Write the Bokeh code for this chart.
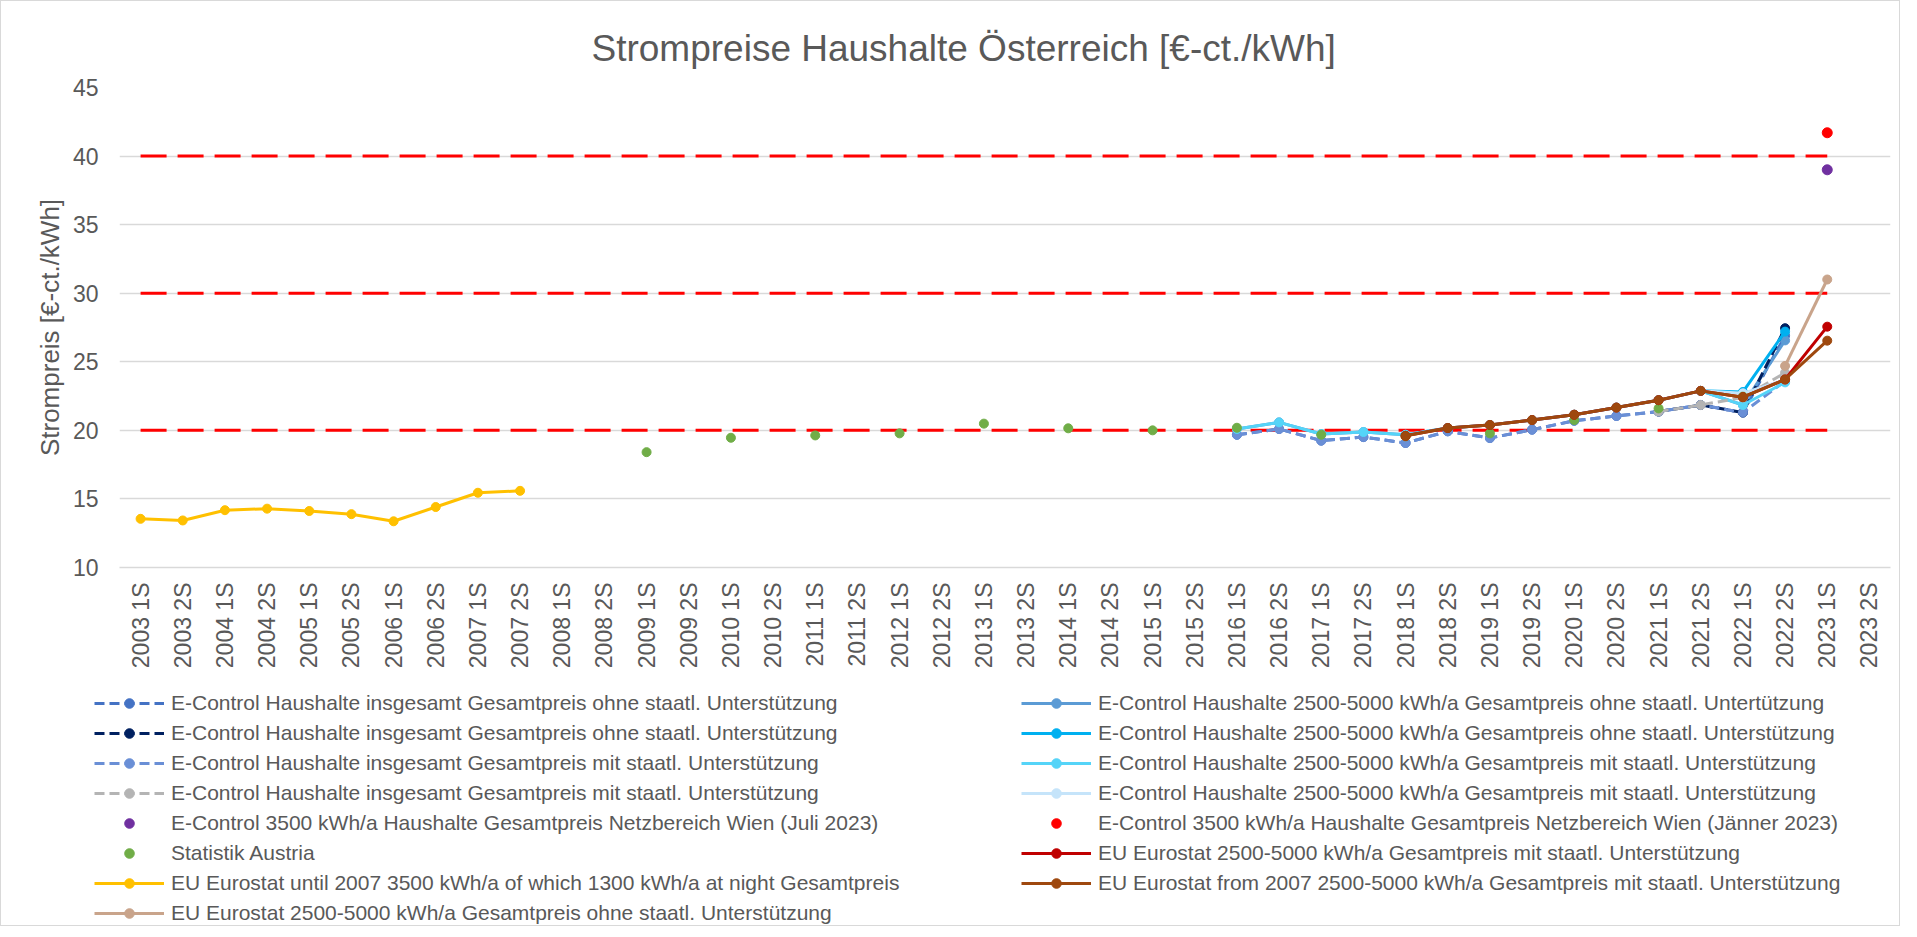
from math import pi
from bokeh.plotting import figure
from bokeh.models import (Legend, LegendItem, FixedTicker, Range1d, FactorRange,
                          ColumnDataSource)
from bokeh.embed import file_html
from bokeh.resources import INLINE

# ---------------- data ----------------
years = list(range(2003, 2024))
categories = [f"{y} {h}S" for y in years for h in (1, 2)]

y_ticks = [10, 15, 20, 25, 30, 35, 40, 45]
threshold_levels = [20, 30, 40]
threshold_cats = ["2003 1S", "2023 1S"]

ec_cats = ["2016 1S", "2016 2S", "2017 1S", "2017 2S", "2018 1S", "2018 2S", "2019 1S",
           "2019 2S", "2020 1S", "2020 2S", "2021 1S", "2021 2S", "2022 1S", "2022 2S"]

# E-Control Haushalte insgesamt Gesamtpreis ohne staatl. Unterstützung
ec_ges_ohne_a = [19.68, 20.10, 19.25, 19.51, 19.08, 19.93, 19.44, 20.05, 20.70, 21.05,
                 21.37, 21.85, 21.30, 26.90]
# E-Control Haushalte 2500-5000 kWh/a ohne (Untertützung)
ec_25_ohne_a = [20.10, 20.58, 19.73, 19.88, 19.68, 20.17, 20.39, 20.75, 21.14, 21.66,
                22.20, 22.88, 21.85, 26.56]
# E-Control insgesamt ohne (2)
ec_ges_ohne_b_cats = ["2021 1S", "2021 2S", "2022 1S", "2022 2S"]
ec_ges_ohne_b = [21.37, 21.85, 21.30, 27.45]
# E-Control 2500-5000 ohne (2)
ec_25_ohne_b_cats = ["2021 2S", "2022 1S", "2022 2S"]
ec_25_ohne_b = [22.88, 22.80, 27.20]
# E-Control insgesamt mit
ec_ges_mit_a = [19.68, 20.10, 19.25, 19.51, 19.08, 19.93, 19.44, 20.05, 20.70, 21.05,
                21.37, 21.85, 21.30, 23.60]
# E-Control 2500-5000 mit
ec_25_mit_a = [20.10, 20.58, 19.73, 19.88, 19.68, 20.17, 20.39, 20.75, 21.14, 21.66,
               22.20, 22.88, 21.85, 23.50]
# E-Control insgesamt mit (2)
ec_ges_mit_b_cats = ["2021 1S", "2021 2S", "2022 1S", "2022 2S"]
ec_ges_mit_b = [21.37, 21.85, 22.40, 24.20]
# E-Control 2500-5000 mit (2)
ec_25_mit_b_cats = ["2021 2S", "2022 1S", "2022 2S"]
ec_25_mit_b = [22.88, 22.70, 23.70]

wien_cats = ["2023 1S"]
wien_juli = [39.0]
wien_jaenner = [41.7]

stat_cats = ["2009 1S", "2010 1S", "2011 1S", "2012 1S", "2013 1S", "2014 1S", "2015 1S",
             "2016 1S", "2017 1S", "2018 1S", "2019 1S", "2020 1S", "2021 1S", "2022 1S"]
stat_austria = [18.41, 19.46, 19.63, 19.78, 20.49, 20.15, 20.00, 20.19, 19.68, 19.56,
                19.78, 20.75, 21.60, 22.46]

eu_cats = ["2018 1S", "2018 2S", "2019 1S", "2019 2S", "2020 1S", "2020 2S", "2021 1S",
           "2021 2S", "2022 1S", "2022 2S", "2023 1S"]
eu_mit = [19.60, 20.17, 20.39, 20.75, 21.14, 21.66, 22.20, 22.88, 22.42, 23.71, 27.56]
eu_from2007 = [19.60, 20.17, 20.39, 20.75, 21.14, 21.66, 22.20, 22.88, 22.42, 23.71, 26.54]

eu_until_cats = ["2003 1S", "2003 2S", "2004 1S", "2004 2S", "2005 1S", "2005 2S",
                 "2006 1S", "2006 2S", "2007 1S", "2007 2S"]
eu_until2007 = [13.55, 13.43, 14.18, 14.29, 14.12, 13.89, 13.37, 14.41, 15.45, 15.59]

eu_ohne_cats = ["2022 2S", "2023 1S"]
eu_ohne = [24.70, 31.00]

# ---------------- figure ----------------
FONT = "Liberation Sans"
TXT = "#595959"
W = 1900
BORDER = "1px solid #D9D9D9"

p = figure(x_range=FactorRange(*categories), y_range=Range1d(10, 45),
           width=W, height=680, output_backend="svg", toolbar_location=None,
           min_border_left=118, min_border_right=11, min_border_top=86,
           min_border_bottom=114)
p.outline_line_color = None
p.styles = {"border-top": BORDER, "border-left": BORDER, "border-right": BORDER}

p.title.text = "Strompreise Haushalte Österreich [€-ct./kWh]"
p.title.align = "left"
p.title.offset = 472
p.title.text_font = FONT
p.title.text_font_size = "37px"
p.title.text_font_style = "normal"
p.title.text_color = TXT
p.title.standoff = 37

p.xgrid.grid_line_color = None
p.ygrid.ticker = FixedTicker(ticks=y_ticks)
p.ygrid.grid_line_color = "#D9D9D9"
p.ygrid.grid_line_width = 1.5

p.yaxis.ticker = FixedTicker(ticks=y_ticks)
p.yaxis.axis_line_color = None
p.yaxis.major_tick_line_color = None
p.yaxis.minor_tick_line_color = None
p.yaxis.major_label_text_font = FONT
p.yaxis.major_label_text_font_size = "23px"
p.yaxis.major_label_text_color = TXT
p.yaxis.major_label_standoff = 15
p.yaxis.axis_label = "Strompreis [€-ct./kWh]"
p.yaxis.axis_label_text_font = FONT
p.yaxis.axis_label_text_font_size = "26px"
p.yaxis.axis_label_text_font_style = "normal"
p.yaxis.axis_label_text_color = TXT
p.yaxis.axis_label_standoff = 5

p.xaxis.axis_line_color = "#D9D9D9"
p.xaxis.axis_line_width = 1.5
p.xaxis.major_tick_line_color = None
p.xaxis.minor_tick_line_color = None
p.xaxis.major_label_orientation = pi / 2
p.xaxis.major_label_text_font = FONT
p.xaxis.major_label_text_font_size = "23px"
p.xaxis.major_label_text_color = TXT
p.xaxis.major_label_standoff = 9

# legend-only figure underneath the chart (its frame shows no data range)
lf = figure(width=W, height=246, output_backend="svg", toolbar_location=None,
            x_range=FactorRange(*categories), y_range=Range1d(100, 101),
            x_axis_type=None, y_axis_type=None, min_border=0)
lf.outline_line_color = None
lf.grid.grid_line_color = None
lf.styles = {"border-bottom": BORDER, "border-left": BORDER, "border-right": BORDER}

# threshold lines
for lvl in threshold_levels:
    p.line(x=threshold_cats, y=[lvl] * len(threshold_cats), line_color="#FF0000",
           line_width=3, line_dash="26 11")


def series(xc, yv, color, dash="solid", line=True, marker=True, size=9, width=3):
    src = ColumnDataSource(dict(x=xc, y=yv))
    leg = []
    if line:
        p.line("x", "y", source=src, line_color=color, line_width=width, line_dash=dash)
        leg.append(lf.line("x", "y", source=src, line_color=color, line_width=width,
                           line_dash=dash))
    if marker:
        p.scatter("x", "y", source=src, size=size, marker="circle",
                  fill_color=color, line_color=color)
        leg.append(lf.scatter("x", "y", source=src, size=size, marker="circle",
                              fill_color=color, line_color=color))
    return leg


DASH = "10 5"
r1 = series(ec_cats, ec_ges_ohne_a, "#4472C4", DASH)
r2 = series(ec_cats, ec_25_ohne_a, "#5B9BD5")
r3 = series(ec_ges_ohne_b_cats, ec_ges_ohne_b, "#002060", DASH)
r4 = series(ec_25_ohne_b_cats, ec_25_ohne_b, "#00B0F0")
r5 = series(ec_cats, ec_ges_mit_a, "#6A8FD6", DASH)
r6 = series(ec_cats, ec_25_mit_a, "#55D4F8")
r7 = series(ec_ges_mit_b_cats, ec_ges_mit_b, "#B4B4B4", DASH)
r8 = series(ec_25_mit_b_cats, ec_25_mit_b, "#C5E4FA")
r9 = series(wien_cats, wien_juli, "#7030A0", line=False, size=10)
r10 = series(wien_cats, wien_jaenner, "#FF0000", line=False, size=10)
r11 = series(stat_cats, stat_austria, "#70AD47", line=False, size=9)
r12 = series(eu_cats, eu_mit, "#C00000")
r13 = series(eu_until_cats, eu_until2007, "#FFC000")
r14 = series(eu_cats, eu_from2007, "#9E480E")
r15 = series(eu_ohne_cats, eu_ohne, "#C9A48B")

left_items = [
    LegendItem(label="E-Control Haushalte insgesamt Gesamtpreis ohne staatl. Unterstützung", renderers=r1),
    LegendItem(label="E-Control Haushalte insgesamt Gesamtpreis ohne staatl. Unterstützung", renderers=r3),
    LegendItem(label="E-Control Haushalte insgesamt Gesamtpreis mit staatl. Unterstützung", renderers=r5),
    LegendItem(label="E-Control Haushalte insgesamt Gesamtpreis mit staatl. Unterstützung", renderers=r7),
    LegendItem(label="E-Control 3500 kWh/a Haushalte Gesamtpreis Netzbereich Wien (Juli 2023)", renderers=r9),
    LegendItem(label="Statistik Austria", renderers=r11),
    LegendItem(label="EU Eurostat until 2007 3500 kWh/a of which 1300 kWh/a at night Gesamtpreis", renderers=r13),
    LegendItem(label="EU Eurostat 2500-5000 kWh/a Gesamtpreis ohne staatl. Unterstützung", renderers=r15),
]
right_items = [
    LegendItem(label="E-Control Haushalte 2500-5000 kWh/a Gesamtpreis ohne staatl. Untertützung", renderers=r2),
    LegendItem(label="E-Control Haushalte 2500-5000 kWh/a Gesamtpreis ohne staatl. Unterstützung", renderers=r4),
    LegendItem(label="E-Control Haushalte 2500-5000 kWh/a Gesamtpreis mit staatl. Unterstützung", renderers=r6),
    LegendItem(label="E-Control Haushalte 2500-5000 kWh/a Gesamtpreis mit staatl. Unterstützung", renderers=r8),
    LegendItem(label="E-Control 3500 kWh/a Haushalte Gesamtpreis Netzbereich Wien (Jänner 2023)", renderers=r10),
    LegendItem(label="EU Eurostat 2500-5000 kWh/a Gesamtpreis mit staatl. Unterstützung", renderers=r12),
    LegendItem(label="EU Eurostat from 2007 2500-5000 kWh/a Gesamtpreis mit staatl. Unterstützung", renderers=r14),
]


def make_legend(items, loc):
    lg = Legend(items=items, location=loc, orientation="vertical",
                label_text_font=FONT, label_text_font_size="21px",
                label_text_color=TXT, glyph_width=70, glyph_height=24,
                label_height=24, label_standoff=7, spacing=6, padding=0, margin=0,
                border_line_color=None, background_fill_alpha=0,
                inactive_fill_alpha=0)
    lf.add_layout(lg, "center")


make_legend(left_items, (93, 1))
make_legend(right_items, (1020, 31))

open("out.html", "w").write(file_html([p, lf], INLINE))
